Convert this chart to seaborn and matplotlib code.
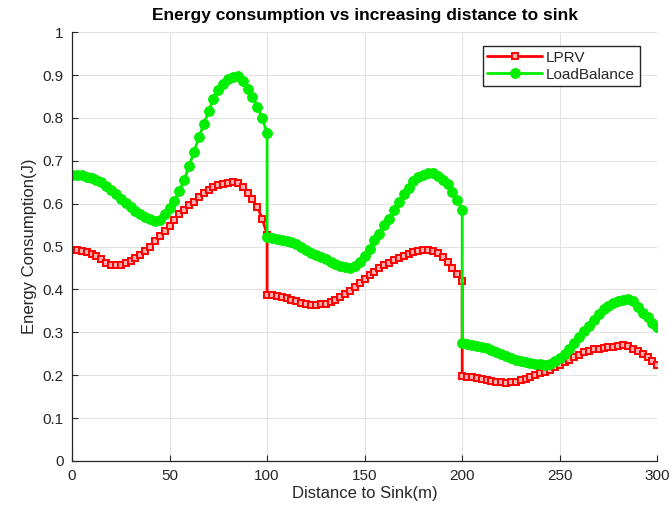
import numpy as np
import pandas as pd
import matplotlib
matplotlib.use("Agg")
import matplotlib.pyplot as plt
import seaborn as sns

# ---- data ----
seg1 = np.arange(0, 100.01, 2.5)
seg2 = np.arange(100, 200.01, 2.5)
seg3 = np.arange(200, 300.01, 2.5)
distance = np.concatenate([seg1, seg2, seg3])

lprv_seg1 = [0.493, 0.492, 0.490, 0.487, 0.482, 0.477, 0.470, 0.462, 0.457, 0.456,
             0.457, 0.461, 0.466, 0.473, 0.481, 0.490, 0.500, 0.512, 0.524, 0.536,
             0.548, 0.562, 0.575, 0.586, 0.596, 0.605, 0.615, 0.624, 0.632, 0.638,
             0.643, 0.646, 0.648, 0.650, 0.648, 0.638, 0.625, 0.610, 0.592, 0.565, 0.528]
lprv_seg2 = [0.388, 0.387, 0.385, 0.382, 0.379, 0.376, 0.373, 0.369, 0.366, 0.364,
             0.364, 0.365, 0.367, 0.370, 0.375, 0.382, 0.389, 0.396, 0.405, 0.415,
             0.424, 0.433, 0.441, 0.449, 0.456, 0.462, 0.468, 0.474, 0.479, 0.483,
             0.487, 0.489, 0.491, 0.492, 0.490, 0.484, 0.475, 0.465, 0.450, 0.435, 0.420]
lprv_seg3 = [0.197, 0.196, 0.195, 0.193, 0.190, 0.188, 0.186, 0.184, 0.183, 0.182,
             0.183, 0.185, 0.188, 0.192, 0.196, 0.200, 0.204, 0.208, 0.213, 0.218,
             0.224, 0.230, 0.236, 0.242, 0.248, 0.253, 0.257, 0.260, 0.262, 0.264,
             0.265, 0.266, 0.268, 0.270, 0.268, 0.262, 0.256, 0.250, 0.242, 0.232, 0.224]

lb_seg1 = [0.667, 0.667, 0.666, 0.663, 0.660, 0.656, 0.650, 0.642, 0.633, 0.622,
           0.612, 0.602, 0.592, 0.583, 0.575, 0.568, 0.565, 0.560, 0.562, 0.575,
           0.590, 0.607, 0.630, 0.655, 0.688, 0.720, 0.755, 0.785, 0.815, 0.845,
           0.865, 0.880, 0.890, 0.896, 0.897, 0.885, 0.868, 0.848, 0.825, 0.800, 0.765]
lb_seg2 = [0.523, 0.520, 0.518, 0.516, 0.514, 0.511, 0.507, 0.500, 0.493, 0.486,
           0.480, 0.475, 0.470, 0.465, 0.460, 0.455, 0.452, 0.450, 0.455, 0.465,
           0.478, 0.495, 0.515, 0.530, 0.550, 0.565, 0.585, 0.605, 0.622, 0.637,
           0.652, 0.662, 0.668, 0.672, 0.672, 0.665, 0.655, 0.645, 0.628, 0.608, 0.585]
lb_seg3 = [0.275, 0.272, 0.270, 0.268, 0.266, 0.263, 0.259, 0.254, 0.249, 0.244,
           0.240, 0.236, 0.233, 0.230, 0.228, 0.226, 0.225, 0.224, 0.226, 0.232,
           0.240, 0.250, 0.262, 0.275, 0.288, 0.302, 0.315, 0.328, 0.342, 0.355,
           0.362, 0.368, 0.372, 0.376, 0.377, 0.372, 0.360, 0.346, 0.335, 0.322, 0.313]

lprv = np.array(lprv_seg1 + lprv_seg2 + lprv_seg3)
loadbalance = np.array(lb_seg1 + lb_seg2 + lb_seg3)

x_ticks = [0, 50, 100, 150, 200, 250, 300]
y_ticks = [0, 0.1, 0.2, 0.3, 0.4, 0.5, 0.6, 0.7, 0.8, 0.9, 1]
y_tick_labels = ["0", "0.1", "0.2", "0.3", "0.4", "0.5", "0.6", "0.7", "0.8", "0.9", "1"]

# ---- style ----
sns.set_style("white")
plt.rcParams["font.family"] = ["Liberation Sans", "DejaVu Sans"]
dark = "#262626"

fig = plt.figure(figsize=(6.70, 5.19), dpi=100)
ax = fig.add_axes([0.1075, 0.112, 0.8735, 0.826])

sns.lineplot(x=distance, y=lprv, ax=ax, estimator=None, sort=False,
             color="#ff0000", linewidth=2.0, marker="s", markersize=5,
             markerfacecolor="#ffb0b0", markeredgecolor="#ff0000", markeredgewidth=1.4,
             label="LPRV")
sns.lineplot(x=distance, y=loadbalance, ax=ax, estimator=None, sort=False,
             color="#00ee00", linewidth=2.0, marker="o", markersize=7,
             markerfacecolor="#00ee00", markeredgecolor="#00ee00",
             label="LoadBalance")

ax.set_xlim(0, 300)
ax.set_ylim(0, 1)
ax.set_xticks(x_ticks)
ax.set_yticks(y_ticks)
ax.set_yticklabels(y_tick_labels)
ax.grid(True, color="#e3e3e3", linewidth=0.8)
ax.set_axisbelow(True)

for s in ["top", "right"]:
    ax.spines[s].set_visible(False)
for s in ["left", "bottom"]:
    ax.spines[s].set_color(dark)
    ax.spines[s].set_linewidth(0.9)

ax.tick_params(axis="both", direction="in", length=4, width=0.8, color=dark,
               labelsize=11, labelcolor=dark, pad=6)
ax.tick_params(left=True, bottom=True)

ax.set_xlabel("Distance to Sink(m)", fontsize=12, color=dark, labelpad=2)
ax.set_ylabel("Energy Consumption(J)", fontsize=12, color=dark, labelpad=4)
ax.set_title("Energy consumption vs increasing distance to sink",
             fontsize=12.5, fontweight="bold", color="black", pad=9)

leg = ax.legend(loc="upper right", bbox_to_anchor=(0.975, 0.975), fontsize=11,
                frameon=True, fancybox=False, framealpha=1, borderpad=0.3,
                handlelength=3.6, handletextpad=0.25, labelspacing=0.2,
                borderaxespad=0.2)
leg.get_frame().set_edgecolor(dark)
leg.get_frame().set_linewidth(1.0)
for t in leg.get_texts():
    t.set_color(dark)

fig.savefig("out.png", dpi=100)
